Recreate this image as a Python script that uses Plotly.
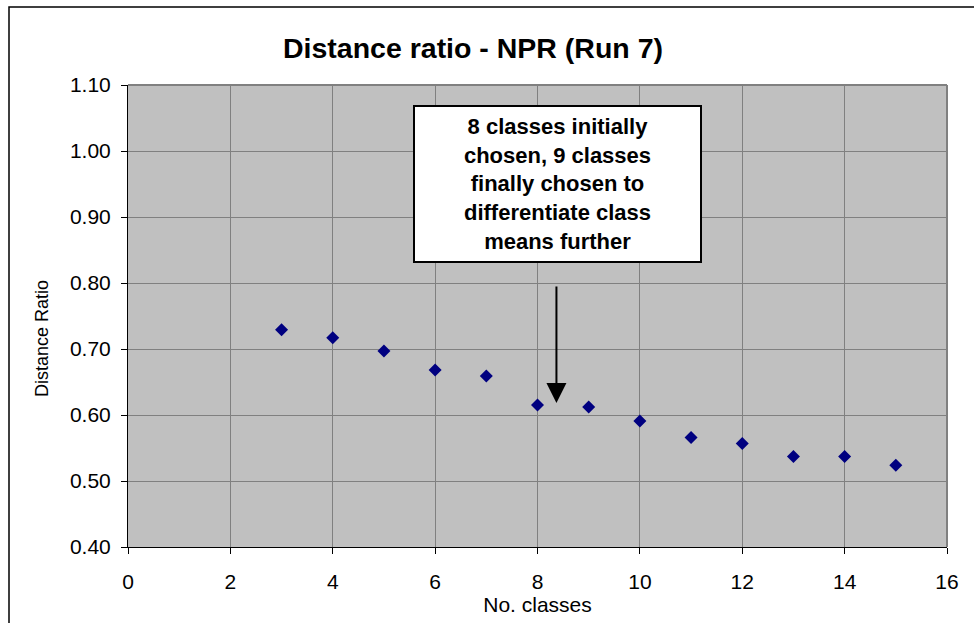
import plotly.graph_objects as go

# Data
n_classes = [3, 4, 5, 6, 7, 8, 9, 10, 11, 12, 13, 14, 15]
distance_ratio = [0.729, 0.717, 0.697, 0.668, 0.659, 0.615, 0.612, 0.591, 0.566, 0.557, 0.537, 0.537, 0.524]
x_ticks = [0, 2, 4, 6, 8, 10, 12, 14, 16]
y_ticks = [0.40, 0.50, 0.60, 0.70, 0.80, 0.90, 1.00, 1.10]
annotation_text = "8 classes initially<br>chosen, 9 classes<br>finally chosen to<br>differentiate class<br>means further"
arrow_x = 8.37
arrow_tip_y = 0.618
arrow_tail_y = 0.797

W, H = 974, 623
L, R, T, B = 128, 947, 85, 547

def px_x(p):
    return (p - L) / (R - L)

def px_y(p):
    return (B - p) / (B - T)

fig = go.Figure()
fig.add_trace(go.Scatter(
    x=n_classes, y=distance_ratio, mode="markers",
    marker=dict(symbol="diamond", size=10, color="#000080"),
    showlegend=False, hoverinfo="skip",
))

font = "Liberation Sans, Arial, sans-serif"

fig.update_layout(
    width=W, height=H,
    margin=dict(l=L, r=W - R, t=T, b=H - B),
    paper_bgcolor="white",
    plot_bgcolor="#c0c0c0",
    font=dict(family=font, size=20, color="black"),
    title=dict(text="<b>Distance ratio - NPR (Run 7)</b>", x=473 / W, xref="container",
               xanchor="center", y=1 - 48 / H, yref="container", yanchor="middle",
               font=dict(size=28.5, family=font)),
    xaxis=dict(range=[0, 16], tickvals=x_ticks, ticktext=[str(v) for v in x_ticks],
               showgrid=True, gridcolor="#808080", gridwidth=1,
               showline=True, linecolor="black", linewidth=1,
               ticks="outside", ticklen=6, tickcolor="black", ticklabelstandoff=10,
               zeroline=False, tickfont=dict(size=21),
               title=dict(text="No. classes", font=dict(size=21), standoff=0)),
    yaxis=dict(range=[0.40, 1.10], tickvals=y_ticks, ticktext=[f"{v:.2f}" for v in y_ticks],
               showgrid=True, gridcolor="#808080", gridwidth=1,
               showline=True, linecolor="black", linewidth=1,
               ticks="outside", ticklen=6, tickcolor="black", ticklabelstandoff=6,
               zeroline=False, tickfont=dict(size=21)),
)

# y axis title (placed as in the reference, slightly below the plot centre)
fig.add_annotation(
    x=px_x(42), y=px_y(339), xref="paper", yref="paper",
    xanchor="center", yanchor="middle", textangle=-90,
    text="Distance Ratio", showarrow=False, font=dict(size=18, family=font, color="black"),
)

# plot area border (top/right gray)
fig.add_shape(type="line", xref="paper", yref="paper", x0=0, x1=1, y0=1, y1=1,
              line=dict(color="#808080", width=2))
fig.add_shape(type="line", xref="paper", yref="paper", x0=1, x1=1, y0=0, y1=1,
              line=dict(color="#808080", width=2))
# outer chart frame
fig.add_shape(type="rect", xref="paper", yref="paper",
              x0=px_x(9), x1=px_x(990), y0=px_y(7), y1=px_y(640),
              line=dict(color="black", width=1.5), layer="below")

# arrow
fig.add_annotation(
    x=arrow_x, y=arrow_tip_y, ax=arrow_x, ay=arrow_tail_y,
    xref="x", yref="y", axref="x", ayref="y",
    showarrow=True, arrowhead=2, arrowsize=2, arrowwidth=2, arrowcolor="black", text="",
)

# annotation box
fig.add_annotation(
    x=px_x((413 + 702) / 2), y=px_y((105 + 262) / 2), xref="paper", yref="paper",
    xanchor="center", yanchor="middle",
    text="<b>" + annotation_text + "</b>", showarrow=False,
    font=dict(size=22, family=font, color="black"),
    bgcolor="white", bordercolor="black", borderwidth=2,
    width=283, height=152, align="center",
)

fig.write_html("out.html", config={"displayModeBar": False},
               post_script="document.body.style.margin='0';document.body.style.overflow='hidden';")
